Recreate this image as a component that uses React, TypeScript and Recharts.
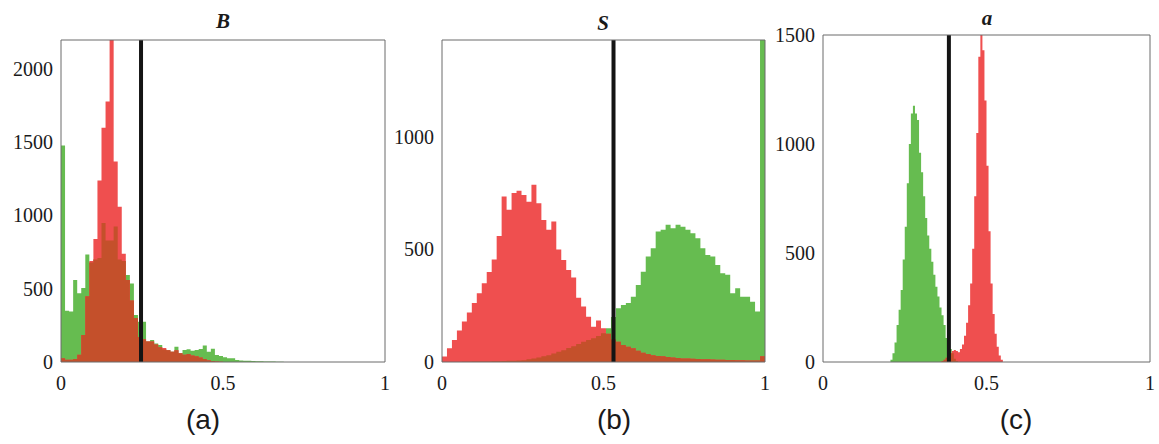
import React from 'react';
import { ComposedChart, Area, XAxis, YAxis, ReferenceLine } from 'recharts';

// ---------- data ----------
// Panel (a): B, 80 bins over [0,1]
const aBinCount = 80;
const aGreen = [
  1480, 350, 345, 560, 470, 505, 735, 680, 700, 710,
  950, 830, 830, 925, 700, 690, 594, 537, 321, 275,
  275, 140, 150, 127, 116, 85, 82, 70, 105, 60,
  82, 87, 77, 82, 89, 112, 70, 91, 48, 41,
  32, 25, 25, 14, 11, 9, 9, 7, 5, 5,
  4, 4, 3, 2, 1,
];
const aRed = [
  25, 15, 15, 20, 50, 185, 450, 690, 840, 1240,
  1600, 1780, 2500, 1370, 1060, 740, 560, 420, 300, 170,
  155, 140, 140, 120, 100, 95, 80, 70, 80, 60,
  50, 55, 45, 40, 30, 20, 12, 6, 3, 1,
];

// Panel (b): S, 65 bins over [0,1]
const bBinCount = 65;
const bGreen = [
  0, 0, 0, 0, 1, 1, 2, 2, 2, 2,
  3, 3, 4, 5, 6, 7, 8, 12, 16, 20,
  25, 30, 38, 45, 52, 62, 70, 80, 90, 98,
  105, 115, 128, 150, 200, 239, 253, 262, 290, 342,
  401, 468, 505, 579, 587, 609, 594, 609, 601, 587,
  572, 550, 505, 475, 468, 431, 394, 387, 305, 327,
  290, 290, 268, 224, 1500,
];
const bRed = [
  24, 61, 98, 140, 180, 220, 262, 305, 350, 400,
  455, 560, 735, 676, 750, 760, 742, 712, 787, 705,
  631, 587, 624, 500, 453, 409, 375, 285, 246, 201,
  157, 184, 150, 125, 100, 90, 75, 68, 61, 50,
  41, 35, 30, 27, 25, 22, 20, 18, 16, 15,
  14, 13, 12, 12, 11, 10, 10, 9, 9, 8,
  8, 7, 7, 7, 25,
];

// Panel (c): a, 160 bins over [0,1]; only the non-empty stretch is listed
const cBinCount = 160;
const cGreenStart = 33;
const cGreen = [
  10, 40, 90, 170, 240, 330, 470, 620, 820, 1000,
  1140, 1175, 1140, 1110, 960, 870, 760, 660, 580, 520,
  460, 400, 345, 300, 250, 215, 170, 110, 70, 60,
  40, 15, 5,
];
const cRedStart = 58;
const cRed = [
  5, 10, 20, 30, 40, 50, 55, 50, 45, 60,
  80, 120, 180, 260, 360, 520, 760, 1050, 1400, 1560,
  1430, 1200, 900, 600, 360, 220, 130, 70, 30, 10,
];

const xTicks = [0, 0.5, 1];
const aYTicks = [0, 500, 1000, 1500, 2000];
const bYTicks = [0, 500, 1000];
const cYTicks = [0, 500, 1000, 1500];
const yMaxes = [2200, 1430, 1500];
const thresholds = [0.247, 0.531, 0.385];
const titles = ['B', 'S', 'a'];
const panelLabels = ['(a)', '(b)', '(c)'];

// ---------- helpers ----------
const GREEN = '#66bc50';
const RED = '#ef4f4f';
const BROWN = '#c4502b';
const FRAME = '#6a6a6a';
const SERIF = "'Liberation Serif', 'Times New Roman', serif";
const SANS = "'Liberation Sans', Arial, sans-serif";

function place(values: number[], start: number, count: number): number[] {
  const out = new Array(count).fill(0);
  values.forEach((v, i) => {
    out[start + i] = v;
  });
  return out;
}

function buildRows(green: number[], red: number[], count: number) {
  const rows: { x: number; g: number; r: number; m: number }[] = [];
  for (let i = 0; i < count; i++) {
    const g = green[i] ?? 0;
    const r = red[i] ?? 0;
    rows.push({ x: i / count, g, r, m: Math.min(g, r) });
  }
  rows.push({ ...rows[rows.length - 1], x: 1 });
  return rows;
}

const rowsA = buildRows(aGreen, aRed, aBinCount);
const rowsB = buildRows(bGreen, bRed, bBinCount);
const rowsC = buildRows(
  place(cGreen, cGreenStart, cBinCount),
  place(cRed, cRedStart, cBinCount),
  cBinCount
);

const tickTextStyle = { fontFamily: SERIF, fontSize: 20 };

function YTick(props: any) {
  const { x, y, payload } = props;
  return (
    <text x={x} y={y} dy="0.34em" textAnchor="end" fill="#1a1a1a" style={tickTextStyle}>
      {payload.value}
    </text>
  );
}

function XTick(props: any) {
  const { x, y, payload } = props;
  return (
    <text x={x} y={y} dy="0.72em" textAnchor="middle" fill="#1a1a1a" style={tickTextStyle}>
      {payload.value}
    </text>
  );
}

type PanelProps = {
  rows: { x: number; g: number; r: number; m: number }[];
  ymax: number;
  yTicks: number[];
  threshold: number;
  plotLeft: number;
  plotTop: number;
  plotW: number;
  plotH: number;
};

function Panel({ rows, ymax, yTicks, threshold, plotLeft, plotTop, plotW, plotH }: PanelProps) {
  const yW = 56;
  const xH = 44;
  const mt = 14;
  const mr = 10;
  return (
    <div style={{ position: 'absolute', left: plotLeft - yW, top: plotTop - mt }}>
      <ComposedChart
        width={yW + plotW + mr}
        height={mt + plotH + xH}
        data={rows}
        margin={{ top: mt, right: mr, bottom: 0, left: 0 }}
      >
        <XAxis
          xAxisId="b"
          dataKey="x"
          type="number"
          domain={[0, 1]}
          ticks={xTicks}
          interval={0}
          height={xH}
          tickLine={false}
          tickSize={6}
          tickMargin={8}
          axisLine={{ stroke: FRAME }}
          tick={<XTick />}
          allowDataOverflow
        />
        <XAxis
          xAxisId="b2"
          orientation="bottom"
          type="number"
          domain={[0, 1]}
          ticks={xTicks}
          interval={0}
          mirror
          tick={false}
          tickSize={4}
          tickLine={{ stroke: FRAME }}
          axisLine={false}
          allowDataOverflow
        />
        <XAxis
          xAxisId="t"
          orientation="top"
          type="number"
          domain={[0, 1]}
          ticks={xTicks}
          interval={0}
          mirror
          tick={false}
          tickSize={4}
          tickLine={{ stroke: FRAME }}
          axisLine={{ stroke: FRAME }}
          allowDataOverflow
        />
        <YAxis
          yAxisId="l"
          type="number"
          domain={[0, ymax]}
          ticks={yTicks}
          interval={0}
          width={yW}
          tickLine={false}
          tickSize={6}
          tickMargin={2}
          axisLine={{ stroke: FRAME }}
          tick={<YTick />}
          allowDataOverflow
        />
        <YAxis
          yAxisId="l2"
          orientation="left"
          type="number"
          domain={[0, ymax]}
          ticks={yTicks}
          interval={0}
          mirror
          tick={false}
          tickSize={4}
          tickLine={{ stroke: FRAME }}
          axisLine={false}
          allowDataOverflow
        />
        <YAxis
          yAxisId="r"
          orientation="right"
          type="number"
          domain={[0, ymax]}
          ticks={yTicks}
          interval={0}
          mirror
          tick={false}
          tickSize={4}
          tickLine={{ stroke: FRAME }}
          axisLine={{ stroke: FRAME }}
          allowDataOverflow
        />
        <Area
          xAxisId="b"
          yAxisId="l"
          type="stepAfter"
          dataKey="g"
          fill={GREEN}
          fillOpacity={1}
          stroke="none"
          isAnimationActive={false}
        />
        <Area
          xAxisId="b"
          yAxisId="l"
          type="stepAfter"
          dataKey="r"
          fill={RED}
          fillOpacity={1}
          stroke="none"
          isAnimationActive={false}
        />
        <Area
          xAxisId="b"
          yAxisId="l"
          type="stepAfter"
          dataKey="m"
          fill={BROWN}
          fillOpacity={1}
          stroke="none"
          isAnimationActive={false}
        />
        <ReferenceLine xAxisId="b" yAxisId="l" x={threshold} stroke="#141414" strokeWidth={4} />
      </ComposedChart>
    </div>
  );
}

export default function App() {
  const layouts = [
    { plotLeft: 61, plotTop: 40, plotW: 324, plotH: 322 },
    { plotLeft: 442, plotTop: 40, plotW: 323, plotH: 322 },
    { plotLeft: 823, plotTop: 35, plotW: 327, plotH: 327 },
  ];
  const rows = [rowsA, rowsB, rowsC];
  const yTicks = [aYTicks, bYTicks, cYTicks];
  const titlePos = [
    { x: 223, y: 28 },
    { x: 603, y: 30 },
    { x: 987, y: 25 },
  ];
  const labelPos = [
    { x: 203, y: 429 },
    { x: 614, y: 429 },
    { x: 1016, y: 429 },
  ];
  return (
    <div
      style={{
        position: 'absolute',
        left: 0,
        top: 0,
        width: 1159,
        height: 444,
        background: '#ffffff',
        overflow: 'hidden',
      }}
    >
      {layouts.map((l, i) => (
        <Panel
          key={i}
          rows={rows[i]}
          ymax={yMaxes[i]}
          yTicks={yTicks[i]}
          threshold={thresholds[i]}
          {...l}
        />
      ))}
      <svg
        width={1159}
        height={444}
        style={{ position: 'absolute', left: 0, top: 0, pointerEvents: 'none' }}
      >
        {titles.map((t, i) => (
          <text
            key={t}
            x={titlePos[i].x}
            y={titlePos[i].y}
            textAnchor="middle"
            style={{ fontFamily: SERIF, fontStyle: 'italic', fontWeight: 'bold', fontSize: 21 }}
            fill="#1a1a1a"
          >
            {t}
          </text>
        ))}
        {panelLabels.map((t, i) => (
          <text
            key={t}
            x={labelPos[i].x}
            y={labelPos[i].y}
            textAnchor="middle"
            style={{ fontFamily: SANS, fontSize: 28 }}
            fill="#1a1a1a"
          >
            {t}
          </text>
        ))}
      </svg>
    </div>
  );
}
